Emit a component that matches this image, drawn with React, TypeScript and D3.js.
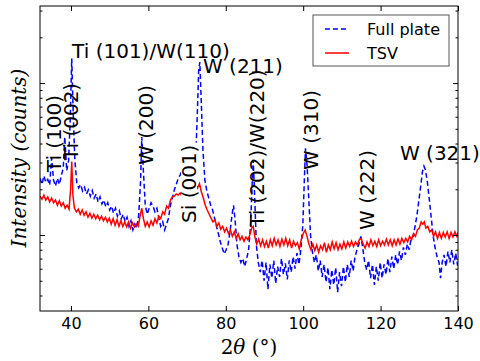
import React, { useEffect, useRef } from 'react';
import * as d3 from 'd3';

// [2θ (deg), intensity (counts)]
const fullPlate = [
  [32.0, 236], [32.5, 215], [33.0, 245], [33.5, 222], [34.0, 232], [34.5, 213], [35.0, 322], [35.5, 230],
  [36.0, 210], [36.5, 236], [37.0, 215], [37.5, 245], [38.0, 275], [38.4, 442], [38.9, 265], [39.4, 311],
  [39.8, 571], [40.2, 1450], [40.6, 610], [41.0, 311], [41.5, 222], [42.0, 204], [42.5, 215], [43.0, 195],
  [43.5, 206], [44.0, 186], [44.5, 198], [45.0, 180], [45.5, 196], [46.0, 175], [46.5, 186], [47.0, 165],
  [47.5, 178], [48.0, 160], [48.5, 170], [49.0, 153], [49.5, 163], [50.0, 146], [50.5, 155], [51.0, 139],
  [51.5, 150], [52.0, 133], [52.5, 144], [53.0, 128], [53.5, 137], [54.0, 122], [54.5, 131], [55.0, 114],
  [55.5, 124], [56.0, 108], [56.5, 118], [57.0, 111], [57.5, 135], [58.0, 230], [58.3, 442], [58.7, 268],
  [59.2, 157], [59.7, 137], [60.2, 150], [60.7, 163], [61.2, 155], [61.7, 142], [62.2, 150], [62.7, 129],
  [63.2, 114], [63.7, 122], [64.2, 108], [64.7, 118], [65.2, 129], [65.7, 157], [66.2, 175], [66.7, 198],
  [67.2, 215], [67.7, 236], [68.2, 248], [68.7, 268], [69.2, 275], [69.7, 282], [70.2, 289], [70.7, 292],
  [71.2, 282], [71.7, 268], [72.2, 311], [72.6, 571], [73.0, 1218], [73.3, 1374], [73.7, 715], [74.1, 362],
  [74.6, 230], [75.1, 195], [75.6, 175], [76.1, 157], [76.6, 146], [77.1, 129], [77.6, 114], [78.1, 102],
  [78.6, 90], [79.1, 82], [79.6, 75], [80.1, 80], [80.6, 87], [81.1, 105], [81.6, 135], [82.0, 157],
  [82.4, 126], [82.9, 86], [83.4, 72], [83.9, 66], [84.4, 70], [84.9, 62], [85.4, 70], [85.9, 80],
  [86.4, 116], [86.8, 213], [87.1, 311], [87.5, 170], [87.9, 86], [88.4, 66], [88.9, 57], [89.4, 68],
  [89.9, 50], [90.4, 66], [90.9, 44], [91.4, 64], [91.9, 52], [92.4, 68], [92.9, 48], [93.4, 62],
  [93.9, 53], [94.4, 70], [94.9, 55], [95.4, 65], [95.9, 51], [96.4, 68], [96.9, 57], [97.4, 72],
  [97.9, 60], [98.4, 76], [98.9, 64], [99.4, 80], [99.9, 116], [100.3, 230], [100.6, 372], [101.0, 289],
  [101.4, 183], [101.9, 100], [102.4, 77], [102.9, 66], [103.4, 74], [103.9, 58], [104.4, 68], [104.9, 53],
  [105.4, 64], [105.9, 49], [106.4, 61], [106.9, 44], [107.4, 59], [107.9, 47], [108.4, 61], [108.9, 42],
  [109.4, 57], [109.9, 46], [110.4, 62], [110.9, 49], [111.4, 64], [111.9, 53], [112.4, 68], [112.9, 58],
  [113.4, 72], [113.9, 80], [114.4, 87], [114.9, 98], [115.4, 82], [115.9, 66], [116.4, 59], [116.9, 68],
  [117.4, 52], [117.9, 64], [118.4, 47], [118.9, 62], [119.4, 50], [119.9, 66], [120.4, 52], [120.9, 64],
  [121.4, 55], [121.9, 70], [122.4, 57], [122.9, 72], [123.4, 60], [123.9, 74], [124.4, 64], [124.9, 78],
  [125.4, 68], [125.9, 83], [126.4, 74], [126.9, 87], [127.4, 80], [127.9, 95], [128.4, 98], [128.9, 114],
  [129.4, 135], [129.9, 170], [130.4, 213], [130.8, 260], [131.2, 284], [131.6, 268], [132.1, 222], [132.6, 170],
  [133.1, 129], [133.6, 98], [134.1, 82], [134.6, 72], [135.1, 66], [135.5, 52], [135.9, 66], [136.4, 74],
  [136.9, 62], [137.4, 78], [137.9, 66], [138.4, 80], [138.9, 64], [139.4, 76], [139.9, 63],
];

const tsv = [
  [32.0, 180], [32.5, 172], [33.0, 183], [33.5, 170], [34.0, 178], [34.5, 165], [35.0, 175], [35.5, 163],
  [36.0, 170], [36.5, 157], [37.0, 168], [37.5, 155], [38.0, 163], [38.5, 150], [39.0, 157], [39.5, 148],
  [39.9, 198], [40.2, 305], [40.5, 183], [40.9, 150], [41.4, 142], [41.9, 148], [42.4, 137], [42.9, 146],
  [43.4, 135], [43.9, 142], [44.4, 131], [44.9, 139], [45.4, 129], [45.9, 137], [46.4, 128], [46.9, 135],
  [47.4, 126], [47.9, 133], [48.4, 124], [48.9, 131], [49.4, 122], [49.9, 129], [50.4, 118], [50.9, 128],
  [51.4, 116], [51.9, 126], [52.4, 114], [52.9, 124], [53.4, 114], [53.9, 122], [54.4, 113], [54.9, 122],
  [55.4, 111], [55.9, 120], [56.4, 113], [56.9, 118], [57.4, 114], [57.9, 135], [58.3, 150], [58.7, 129],
  [59.2, 114], [59.7, 122], [60.2, 113], [60.7, 124], [61.2, 116], [61.7, 128], [62.2, 120], [62.7, 133],
  [63.2, 128], [63.7, 142], [64.2, 137], [64.7, 155], [65.2, 150], [65.7, 170], [66.2, 178], [66.7, 180],
  [67.2, 186], [67.7, 183], [68.2, 189], [68.7, 180], [69.2, 192], [69.7, 183], [70.2, 196], [70.7, 189],
  [71.2, 198], [71.7, 204], [72.2, 215], [72.7, 204], [73.2, 218], [73.7, 192], [74.2, 175], [74.7, 157],
  [75.2, 146], [75.7, 137], [76.2, 129], [76.7, 122], [77.2, 126], [77.7, 114], [78.2, 120], [78.7, 109],
  [79.2, 114], [79.7, 105], [80.2, 111], [80.7, 102], [81.2, 108], [81.7, 98], [82.2, 105], [82.7, 95],
  [83.2, 102], [83.7, 93], [84.2, 98], [84.7, 91], [85.2, 97], [85.7, 93], [86.2, 100], [86.7, 111],
  [87.1, 114], [87.5, 98], [88.0, 87], [88.5, 94], [89.0, 85], [89.5, 93], [90.0, 84], [90.5, 91],
  [91.0, 82], [91.5, 93], [92.0, 85], [92.5, 95], [93.0, 86], [93.5, 93], [94.0, 84], [94.5, 94],
  [95.0, 86], [95.5, 95], [96.0, 85], [96.5, 93], [97.0, 82], [97.5, 91], [98.0, 85], [98.5, 89],
  [99.0, 81], [99.5, 93], [100.0, 102], [100.5, 108], [101.0, 98], [101.5, 87], [102.0, 80], [102.5, 87],
  [103.0, 79], [103.5, 86], [104.0, 77], [104.5, 85], [105.0, 80], [105.5, 89], [106.0, 77], [106.5, 86],
  [107.0, 80], [107.5, 90], [108.0, 81], [108.5, 89], [109.0, 80], [109.5, 87], [110.0, 81], [110.5, 90],
  [111.0, 82], [111.5, 90], [112.0, 84], [112.5, 91], [113.0, 84], [113.5, 90], [114.0, 86], [114.5, 93],
  [115.0, 95], [115.5, 87], [116.0, 82], [116.5, 90], [117.0, 84], [117.5, 93], [118.0, 85], [118.5, 91],
  [119.0, 84], [119.5, 93], [120.0, 85], [120.5, 91], [121.0, 86], [121.5, 94], [122.0, 86], [122.5, 93],
  [123.0, 85], [123.5, 93], [124.0, 86], [124.5, 94], [125.0, 87], [125.5, 95], [126.0, 89], [126.5, 95],
  [127.0, 90], [127.5, 98], [128.0, 93], [128.5, 102], [129.0, 98], [129.5, 108], [130.0, 111], [130.5, 122],
  [130.9, 118], [131.3, 122], [131.7, 111], [132.2, 114], [132.7, 105], [133.2, 108], [133.7, 98], [134.2, 105],
  [134.7, 95], [135.2, 104], [135.7, 95], [136.2, 104], [136.7, 97], [137.2, 105], [137.7, 95], [138.2, 104],
  [138.7, 97], [139.2, 105], [139.7, 98], [140.0, 104],
];

const seriesNames = ['Full plate', 'TSV'];
const xTicks = [40, 60, 80, 100, 120, 140];

// peak labels: text, anchor 2θ, anchor counts, rotated or not
const peakLabels = [
  { text: 'Ti (100)', at: 35.6, counts: 259, vertical: true },
  { text: 'Ti (002)', at: 40.0, counts: 311, vertical: true },
  { text: 'Ti (101)/W(110)', at: 40.3, counts: 1459, vertical: false },
  { text: 'W (200)', at: 59.4, counts: 289, vertical: true },
  { text: 'Si (001)', at: 70.5, counts: 120, vertical: true, boxed: true },
  { text: 'W (211)', at: 74.1, counts: 1164, vertical: false },
  { text: 'Ti (202)/W(220)', at: 88.1, counts: 113, vertical: true },
  { text: 'W (310)', at: 102.0, counts: 268, vertical: true },
  { text: 'W (222)', at: 116.5, counts: 108, vertical: true },
  { text: 'W (321)', at: 125.0, counts: 311, vertical: false },
];

const App = () => {
  const svgRef = useRef(null);

  useEffect(() => {
    if (!svgRef.current) return;
    const svg = d3.select(svgRef.current);
    svg.selectAll('*').remove();

    const width = 480;
    const height = 361;
    const margin = { top: 6, right: 22, bottom: 50, left: 40 };
    const innerWidth = width - margin.left - margin.right;
    const innerHeight = height - margin.top - margin.bottom;

    const x = d3.scaleLinear().domain([32, 140]).range([0, innerWidth]);
    const y = d3.scaleLog()
      .domain([Math.pow(10, 1.5), Math.pow(10, 3.507)])
      .range([innerHeight, 0]);

    const g = svg.append('g')
      .attr('transform', `translate(${margin.left}, ${margin.top})`);

    g.append('clipPath').attr('id', 'plot-clip')
      .append('rect').attr('width', innerWidth).attr('height', innerHeight);

    const line = d3.line()
      .x(d => x(d[0]))
      .y(d => y(d[1]));

    const lines = g.append('g').attr('clip-path', 'url(#plot-clip)');

    lines.append('path')
      .datum(fullPlate)
      .attr('d', line)
      .attr('fill', 'none')
      .attr('stroke', '#0000ff')
      .attr('stroke-width', 1.5)
      .attr('stroke-dasharray', '5,3');

    lines.append('path')
      .datum(tsv)
      .attr('d', line)
      .attr('fill', 'none')
      .attr('stroke', '#ff0000')
      .attr('stroke-width', 1.5);

    // log ticks
    const major = [];
    const minor = [];
    [10, 100, 1000].forEach(dec => {
      d3.range(1, 10).forEach(m => {
        const v = dec * m;
        if (v < y.domain()[0] || v > y.domain()[1]) return;
        (m === 1 ? major : minor).push(v);
      });
    });

    const noLabel = () => '';
    [
      d3.axisLeft(y).tickValues(major).tickSize(-5),
      d3.axisLeft(y).tickValues(minor).tickSize(-2.5),
    ].forEach(ax => {
      g.append('g').call(ax.tickFormat(noLabel));
    });
    [
      d3.axisRight(y).tickValues(major).tickSize(-5),
      d3.axisRight(y).tickValues(minor).tickSize(-2.5),
    ].forEach(ax => {
      g.append('g').attr('transform', `translate(${innerWidth}, 0)`).call(ax.tickFormat(noLabel));
    });
    g.append('g').call(d3.axisTop(x).tickValues(xTicks).tickSize(-5).tickFormat(noLabel));
    const xAxis = g.append('g')
      .attr('transform', `translate(0, ${innerHeight})`)
      .call(d3.axisBottom(x).tickValues(xTicks).tickSize(-5).tickPadding(7).tickFormat(d3.format('d')));
    xAxis.selectAll('text')
      .attr('font-family', 'DejaVu Sans')
      .attr('font-size', 16)
      .attr('fill', '#000');

    g.selectAll('.domain').remove();
    g.selectAll('.tick line').attr('stroke', '#000');

    // peak annotations
    peakLabels.forEach(p => {
      const lab = g.append('g')
        .attr('transform', p.vertical
          ? `translate(${x(p.at)}, ${y(p.counts)}) rotate(-90)`
          : `translate(${x(p.at)}, ${y(p.counts)})`);
      const t = lab.append('text')
        .attr('font-family', 'DejaVu Sans')
        .attr('font-size', 20)
        .attr('fill', '#000')
        .attr('dominant-baseline', p.vertical ? 'central' : 'auto')
        .text(p.text);
      if (p.boxed) {
        const b = t.node().getBBox();
        lab.insert('rect', 'text')
          .attr('x', b.x - 2).attr('y', -8)
          .attr('width', b.width + 4).attr('height', 16)
          .attr('fill', '#fff');
      }
    });

    // frame
    g.append('rect')
      .attr('width', innerWidth)
      .attr('height', innerHeight)
      .attr('fill', 'none')
      .attr('stroke', '#000')
      .attr('stroke-width', 1);

    // legend
    const legend = g.append('g').attr('transform', `translate(${innerWidth - 145}, 9)`);
    legend.append('rect')
      .attr('width', 136)
      .attr('height', 51)
      .attr('fill', '#fff')
      .attr('stroke', '#555')
      .attr('stroke-width', 1);
    seriesNames.forEach((name, i) => {
      const row = legend.append('g').attr('transform', `translate(0, ${14 + i * 24})`);
      row.append('line')
        .attr('x1', 12).attr('x2', 36)
        .attr('stroke', i === 0 ? '#0000ff' : '#ff0000')
        .attr('stroke-width', 1.5)
        .attr('stroke-dasharray', i === 0 ? '5,3' : null);
      row.append('text')
        .attr('x', 54)
        .attr('dominant-baseline', 'central')
        .attr('font-family', 'DejaVu Sans')
        .attr('font-size', 16)
        .text(name);
    });

    // axis titles
    const xTitle = svg.append('text')
      .attr('x', margin.left + innerWidth / 2)
      .attr('y', 354)
      .attr('text-anchor', 'middle')
      .attr('font-family', 'DejaVu Serif')
      .attr('font-size', 20);
    xTitle.append('tspan').text('2');
    xTitle.append('tspan').attr('font-style', 'italic').text('θ');
    xTitle.append('tspan').text(' (°)');

    svg.append('text')
      .attr('transform', `translate(26, ${margin.top + 152}) rotate(-90)`)
      .attr('text-anchor', 'middle')
      .attr('font-family', 'DejaVu Serif')
      .attr('font-style', 'italic')
      .attr('font-size', 20)
      .text('Intensity (counts)');
  }, []);

  return (
    <svg
      ref={svgRef}
      width={480}
      height={361}
      style={{ position: 'absolute', left: 0, top: 0, background: '#fff' }}
    />
  );
};

export default App;
